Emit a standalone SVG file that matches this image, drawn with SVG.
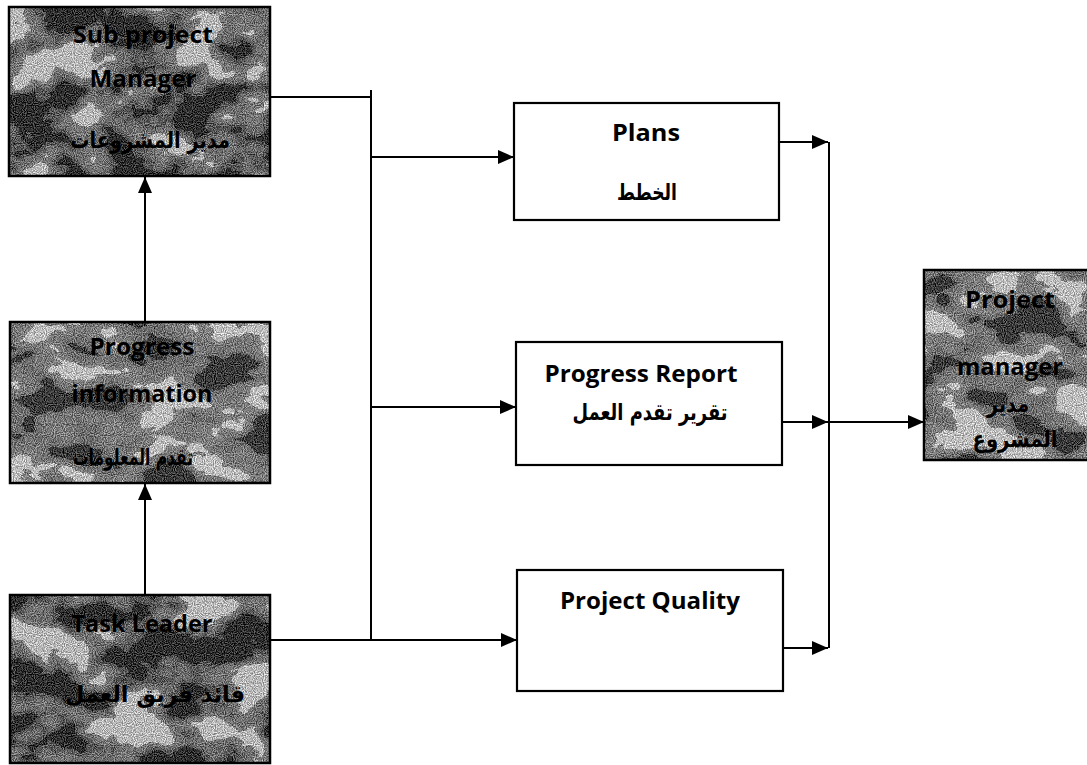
<svg xmlns="http://www.w3.org/2000/svg" width="1087" height="765" viewBox="0 0 1087 765">
  <style>
    .box { fill: #ffffff; stroke: #000000; stroke-width: 2.2; }
    .frame { fill: none; stroke: #000000; stroke-width: 2.5; }
    .en { font-family: "Open Sans", "Liberation Sans", sans-serif; font-weight: 700; font-size: 24px; fill: #000000; text-anchor: middle; }
    .ar { font-family: "DejaVu Sans", "Noto Sans", sans-serif; font-weight: 700; font-size: 23px; fill: #000000; text-anchor: middle; }
    .wire { fill: none; stroke: #000000; stroke-width: 2; }
    .arrow { fill: none; stroke: #000000; stroke-width: 2; marker-end: url(#head); }
  </style>
  <defs>
    <marker id="head" viewBox="0 0 16 14" refX="16" refY="7" markerWidth="16" markerHeight="14" markerUnits="userSpaceOnUse" orient="auto">
      <path d="M0,0 L16,7 L0,14 Z" fill="#000000"/>
    </marker>
    <!-- mottled halftone fill: grey ground with dark and light patches and fine speckle -->
    <filter id="mottle" filterUnits="objectBoundingBox" x="0" y="0" width="1" height="1" color-interpolation-filters="sRGB">
      <feTurbulence type="fractalNoise" baseFrequency="0.016 0.026" numOctaves="4" seed="7" result="blot"/>
      <feColorMatrix in="blot" type="matrix" values="3 0 0 0 -1  3 0 0 0 -1  3 0 0 0 -1  0 0 0 0 1" result="lum"/>
      <feComponentTransfer in="lum" result="lv">
        <feFuncR type="discrete" tableValues="0.22 0.5 0.56 0.6 0.95"/>
        <feFuncG type="discrete" tableValues="0.22 0.5 0.56 0.6 0.95"/>
        <feFuncB type="discrete" tableValues="0.22 0.5 0.56 0.6 0.95"/>
      </feComponentTransfer>
      <feTurbulence type="fractalNoise" baseFrequency="0.9" numOctaves="1" seed="3" result="fine"/>
      <feColorMatrix in="fine" type="matrix" values="2.6 0 0 0 -0.8  2.6 0 0 0 -0.8  2.6 0 0 0 -0.8  0 0 0 0 1" result="fineL"/>
      <feComposite in="lv" in2="fineL" operator="arithmetic" k1="0" k2="0.7" k3="0.45" k4="-0.15" result="mix"/>
      <feComposite in="mix" in2="SourceGraphic" operator="in"/>
    </filter>
    <filter id="mottleDark" filterUnits="objectBoundingBox" x="0" y="0" width="1" height="1" color-interpolation-filters="sRGB">
      <feTurbulence type="fractalNoise" baseFrequency="0.018 0.024" numOctaves="4" seed="11" result="blot"/>
      <feColorMatrix in="blot" type="matrix" values="3 0 0 0 -1.1  3 0 0 0 -1.1  3 0 0 0 -1.1  0 0 0 0 1" result="lum"/>
      <feComponentTransfer in="lum" result="lv">
        <feFuncR type="discrete" tableValues="0.15 0.38 0.5 0.56 0.92"/>
        <feFuncG type="discrete" tableValues="0.15 0.38 0.5 0.56 0.92"/>
        <feFuncB type="discrete" tableValues="0.15 0.38 0.5 0.56 0.92"/>
      </feComponentTransfer>
      <feTurbulence type="fractalNoise" baseFrequency="0.9" numOctaves="1" seed="5" result="fine"/>
      <feColorMatrix in="fine" type="matrix" values="2.6 0 0 0 -0.8  2.6 0 0 0 -0.8  2.6 0 0 0 -0.8  0 0 0 0 1" result="fineL"/>
      <feComposite in="lv" in2="fineL" operator="arithmetic" k1="0" k2="0.7" k3="0.45" k4="-0.15" result="mix"/>
      <feComposite in="mix" in2="SourceGraphic" operator="in"/>
    </filter>
  </defs>

  <!-- connectors -->
  <g id="connectors">
    <line class="arrow" x1="145" y1="595" x2="145" y2="484"/>
    <line class="arrow" x1="145" y1="322" x2="145" y2="177"/>
    <polyline class="wire" points="270,97 371,97"/>
    <line class="wire" x1="371" y1="90" x2="371" y2="640"/>
    <line class="arrow" x1="371" y1="157" x2="514" y2="157"/>
    <line class="arrow" x1="371" y1="407" x2="516" y2="407"/>
    <line class="arrow" x1="270" y1="640" x2="517" y2="640"/>
    <line class="arrow" x1="779" y1="142" x2="828" y2="142"/>
    <line class="arrow" x1="782" y1="422" x2="828" y2="422"/>
    <line class="arrow" x1="783" y1="648" x2="828" y2="648"/>
    <line class="wire" x1="829" y1="142" x2="829" y2="648"/>
    <line class="arrow" x1="829" y1="422" x2="924" y2="422"/>
  </g>

  <!-- left column -->
  <g id="sub-project-manager">
    <rect x="9" y="7" width="261" height="169" fill="#888" filter="url(#mottleDark)"/>
    <rect class="frame" x="9" y="7" width="261" height="169"/>
    <text class="en" x="143" y="43" textLength="140" lengthAdjust="spacingAndGlyphs">Sub project</text>
    <text class="en" x="143" y="87" textLength="107" lengthAdjust="spacingAndGlyphs">Manager</text>
    <text class="ar" x="150" y="148" textLength="160" lengthAdjust="spacingAndGlyphs">مدير المشروعات</text>
  </g>

  <g id="progress-information">
    <rect x="10" y="322" width="260" height="161" fill="#888" filter="url(#mottle)"/>
    <rect class="frame" x="10" y="322" width="260" height="161"/>
    <text class="en" x="142" y="355" textLength="105" lengthAdjust="spacingAndGlyphs">Progress</text>
    <text class="en" x="142" y="402" textLength="141" lengthAdjust="spacingAndGlyphs">information</text>
    <text class="ar" x="133" y="465" textLength="120" lengthAdjust="spacingAndGlyphs">تقدم المعلومات</text>
  </g>

  <g id="task-leader">
    <rect x="10" y="595" width="260" height="168" fill="#888" filter="url(#mottleDark)"/>
    <rect class="frame" x="10" y="595" width="260" height="168"/>
    <text class="en" x="142" y="632" textLength="141" lengthAdjust="spacingAndGlyphs">Task Leader</text>
    <text class="ar" x="155" y="702" textLength="180" lengthAdjust="spacingAndGlyphs">قائد فريق العمل</text>
  </g>

  <!-- middle column -->
  <g id="plans">
    <rect class="box" x="514" y="103" width="265" height="117"/>
    <text class="en" x="646" y="141" textLength="68" lengthAdjust="spacingAndGlyphs">Plans</text>
    <text class="ar" x="647" y="200" textLength="60" lengthAdjust="spacingAndGlyphs">الخطط</text>
  </g>

  <g id="progress-report">
    <rect class="box" x="516" y="342" width="266" height="123"/>
    <text class="en" x="641" y="382" textLength="193" lengthAdjust="spacingAndGlyphs">Progress Report</text>
    <text class="ar" x="650" y="420" textLength="155" lengthAdjust="spacingAndGlyphs">تقرير تقدم العمل</text>
  </g>

  <g id="project-quality">
    <rect class="box" x="517" y="570" width="266" height="121"/>
    <text class="en" x="650" y="609" textLength="180" lengthAdjust="spacingAndGlyphs">Project Quality</text>
  </g>

  <!-- right column -->
  <g id="project-manager">
    <rect x="924" y="270" width="170" height="190" fill="#888" filter="url(#mottle)"/>
    <rect class="frame" x="924" y="270" width="170" height="190"/>
    <text class="en" x="1010" y="308" textLength="90" lengthAdjust="spacingAndGlyphs">Project</text>
    <text class="en" x="1010" y="375" textLength="106" lengthAdjust="spacingAndGlyphs">manager</text>
    <text class="ar" x="1008" y="412" textLength="42" lengthAdjust="spacingAndGlyphs">مدير</text>
    <text class="ar" x="1015" y="447" textLength="85" lengthAdjust="spacingAndGlyphs">المشروع</text>
  </g>
</svg>
